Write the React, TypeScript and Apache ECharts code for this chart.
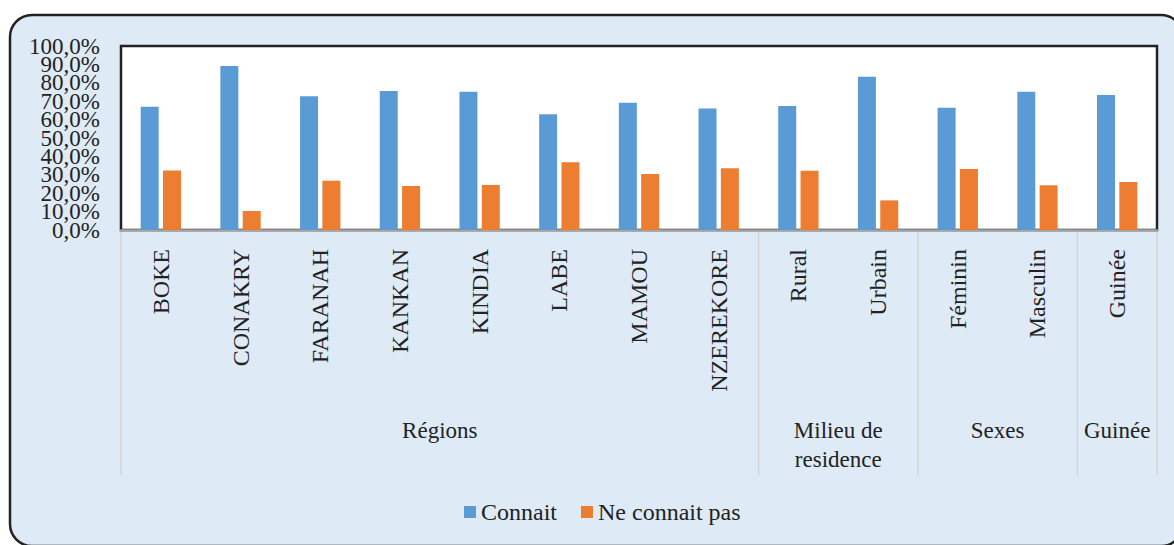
import React, { useEffect, useRef } from "react";
import * as echarts from "echarts";

const categories = ["BOKE", "CONAKRY", "FARANAH", "KANKAN", "KINDIA", "LABE", "MAMOU", "NZEREKORE", "Rural", "Urbain", "Féminin", "Masculin", "Guinée"];
const connait = [67.0, 89.1, 72.7, 75.5, 75.2, 62.9, 69.2, 66.1, 67.4, 83.3, 66.5, 75.2, 73.4];
const neConnaitPas = [32.4, 10.3, 26.8, 23.9, 24.5, 36.8, 30.4, 33.5, 32.2, 16.1, 33.2, 24.3, 26.1];
const groupLabels = ["Régions", "Milieu de\nresidence", "Sexes", "Guinée"];
const groupSizes = [8, 2, 2, 1];
const yTicks = [0, 10, 20, 30, 40, 50, 60, 70, 80, 90, 100];
const yTickLabels = ["0,0%", "10,0%", "20,0%", "30,0%", "40,0%", "50,0%", "60,0%", "70,0%", "80,0%", "90,0%", "100,0%"];

const W = 1174;
const H = 545;
const GRID_LEFT = 121;
const GRID_RIGHT = 1157;
const GRID_TOP = 46;
const GRID_BOTTOM = 230;
const FONT = "'Liberation Serif', 'Times New Roman', serif";
const TEXT = "#222222";

export default function App() {
  const ref = useRef<HTMLDivElement>(null);
  useEffect(() => {
    if (!ref.current) return;
    const chart = echarts.init(ref.current, null, { renderer: "svg" });
    const catW = (GRID_RIGHT - GRID_LEFT) / categories.length;

    const graphics: any[] = [
      {
        type: "rect",
        z: -10,
        silent: true,
        shape: { x: 10, y: 15, width: 1173, height: 531, r: 22 },
        style: { fill: "#DEEBF7", stroke: "#222222", lineWidth: 2.5 },
      },
    ];
    let start = 0;
    const boundaries = [0];
    groupSizes.forEach((s) => {
      start += s;
      boundaries.push(start);
    });
    boundaries.forEach((b) => {
      const x = GRID_LEFT + b * catW;
      graphics.push({
        type: "line",
        silent: true,
        z: -5,
        shape: { x1: x, y1: GRID_BOTTOM + 1, x2: x, y2: 475 },
        style: { stroke: "#D0D4D8", lineWidth: 1.5 },
      });
    });
    groupLabels.forEach((lab, i) => {
      const cx = GRID_LEFT + ((boundaries[i] + boundaries[i + 1]) / 2) * catW;
      graphics.push({
        type: "text",
        silent: true,
        x: cx,
        y: 416,
        style: {
          text: lab,
          fill: TEXT,
          fontFamily: FONT,
          fontSize: 23,
          align: "center",
          verticalAlign: "top",
          lineHeight: 29,
        },
      });
    });

    chart.setOption({
      animation: false,
      backgroundColor: "transparent",
      textStyle: { fontFamily: FONT },
      grid: {
        left: GRID_LEFT,
        right: W - GRID_RIGHT,
        top: GRID_TOP,
        bottom: H - GRID_BOTTOM,
        show: true,
        backgroundColor: "#ffffff",
        borderColor: "#222222",
        borderWidth: 2.5,
        containLabel: false,
      },
      legend: {
        data: ["Connait", "Ne connait pas"],
        left: 459,
        top: 495,
        icon: "rect",
        itemWidth: 12,
        itemHeight: 12,
        itemGap: 24,
        textStyle: { fontSize: 24, fontFamily: FONT, color: TEXT, lineHeight: 24 },
      },
      xAxis: {
        type: "category",
        data: categories,
        axisLine: { show: true, lineStyle: { color: "#A6A6A6", width: 2.5 } },
        axisTick: { show: false },
        axisLabel: {
          rotate: 90,
          interval: 0,
          margin: 19,
          fontSize: 24,
          fontFamily: FONT,
          color: TEXT,
        },
      },
      yAxis: {
        type: "value",
        min: yTicks[0],
        max: yTicks[yTicks.length - 1],
        interval: yTicks[1] - yTicks[0],
        splitLine: { show: false },
        axisLine: { show: false },
        axisTick: { show: false },
        axisLabel: { show: false },
      },
      series: [
        {
          name: "Connait",
          type: "bar",
          data: connait,
          barWidth: 18,
          barGap: "24%",
          itemStyle: { color: "#5B9BD5" },
        },
        {
          name: "Ne connait pas",
          type: "bar",
          data: neConnaitPas,
          barWidth: 18,
          barGap: "24%",
          itemStyle: { color: "#ED7D31" },
        },
      ],
      graphic: graphics,
    });

    // y-axis tick labels positioned through the axis scale
    const yLabelGraphics = yTicks.map((v, i) => {
      const y = chart.convertToPixel({ yAxisIndex: 0 }, v) as number;
      return {
        type: "text",
        silent: true,
        x: GRID_LEFT - 21,
        y,
        style: {
          text: yTickLabels[i],
          fill: TEXT,
          fontFamily: FONT,
          fontSize: 23,
          align: "right",
          verticalAlign: "middle",
        },
      };
    });
    chart.setOption({ graphic: [...graphics, ...yLabelGraphics] });

    return () => chart.dispose();
  }, []);
  return (
    <div
      ref={ref}
      style={{ position: "fixed", left: 0, top: 0, width: W, height: H, background: "#ffffff" }}
    />
  );
}
